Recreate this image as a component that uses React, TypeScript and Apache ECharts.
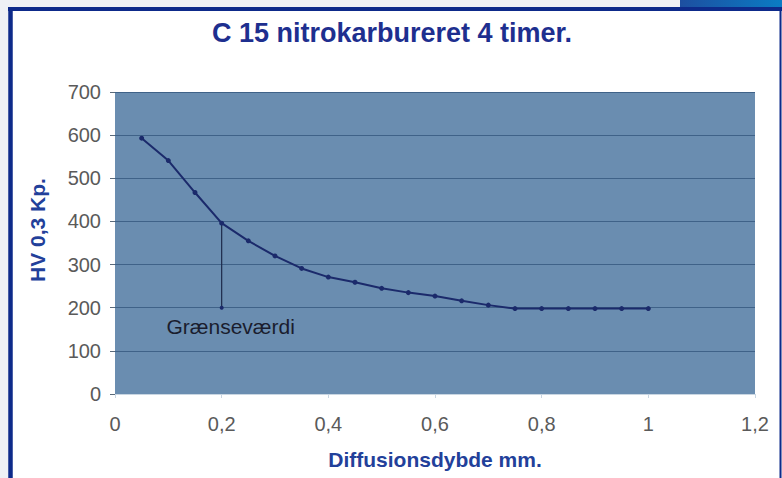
import React, { useEffect, useRef } from "react";
import * as echarts from "echarts";

const titleText = "C 15 nitrokarbureret 4 timer.";
const xAxisName = "Diffusionsdybde mm.";
const yAxisName = "HV 0,3 Kp.";
const limitLabel = "Grænseværdi";

const depthMm = [0.05, 0.1, 0.15, 0.2, 0.25, 0.3, 0.35, 0.4, 0.45, 0.5, 0.55, 0.6, 0.65, 0.7, 0.75, 0.8, 0.85, 0.9, 0.95, 1.0];
const hardnessHV = [593, 541, 467, 396, 355, 320, 291, 271, 259, 245, 235, 227, 216, 206, 198, 198, 198, 198, 198, 198];

const limitDepth = [0.2, 0.2];
const limitHardness = [396, 200];

const xMin = 0;
const xMax = 1.2;
const xStep = 0.2;
const yMin = 0;
const yMax = 700;
const yStep = 100;

export default function App() {
  const ref = useRef<HTMLDivElement>(null);

  useEffect(() => {
    if (!ref.current) return;
    const chart = echarts.init(ref.current, undefined, { renderer: "svg" });
    const lineColor = "#1b2a6b";
    const option: any = {
      animation: false,
      backgroundColor: "#eef1f5",
      title: {
        text: titleText,
        left: 387,
        textAlign: "center",
        top: 14,
        textStyle: {
          fontFamily: "Liberation Sans",
          fontWeight: "bold",
          fontSize: 27,
          color: "#1e2f8f",
        },
      },
      graphic: [
        {
          type: "rect",
          z: -10,
          shape: { x: 680, y: 0, width: 102, height: 9 },
          style: {
            fill: new echarts.graphic.LinearGradient(0, 0, 1, 0, [
              { offset: 0, color: "#1d4fa0" },
              { offset: 1, color: "#0a7cc4" },
            ]),
          },
        },
        {
          type: "rect",
          z: -10,
          shape: { x: 10, y: 9, width: 770, height: 480 },
          style: { fill: "#ffffff" },
        },
        {
          type: "line",
          z: -9,
          shape: { x1: 10.5, y1: 7, x2: 10.5, y2: 478 },
          style: { stroke: "#0d2a8a", lineWidth: 4.5 },
        },
        {
          type: "line",
          z: -9,
          shape: { x1: 8, y1: 9, x2: 782, y2: 9 },
          style: { stroke: "#0d2a8a", lineWidth: 4 },
        },
        {
          type: "line",
          z: -9,
          shape: { x1: 780.5, y1: 9, x2: 780.5, y2: 478 },
          style: { stroke: "#0d2a8a", lineWidth: 2 },
        },
        {
          type: "text",
          z: 10,
          x: 37,
          y: 230,
          rotation: Math.PI / 2,
          style: {
            text: yAxisName,
            align: "center",
            verticalAlign: "middle",
            fontFamily: "Liberation Sans",
            fontWeight: "bold",
            fontSize: 21,
            fill: "#22409a",
          },
        },
      ],
      grid: {
        left: 115,
        right: 27,
        top: 92,
        bottom: 84,
        show: true,
        backgroundColor: "#6a8db0",
        borderWidth: 0,
      },
      xAxis: {
        type: "value",
        min: xMin,
        max: xMax,
        interval: xStep,
        name: xAxisName,
        nameLocation: "middle",
        nameGap: 55,
        nameTextStyle: {
          fontFamily: "Liberation Sans",
          fontWeight: "bold",
          fontSize: 21,
          color: "#22409a",
        },
        axisLine: { show: true, lineStyle: { color: "#c9d6e2", width: 1 } },
        axisTick: { show: true, length: 4, lineStyle: { color: "#c9d6e2" } },
        splitLine: { show: false },
        axisLabel: {
          margin: 20,
          fontFamily: "Liberation Sans",
          fontSize: 20,
          color: "#5a5a5a",
          formatter: (v: number) => String(Math.round(v * 10) / 10).replace(".", ","),
        },
      },
      yAxis: {
        type: "value",
        min: yMin,
        max: yMax,
        interval: yStep,
        axisLine: { show: false },
        axisTick: { show: true, length: 5, lineStyle: { color: "#5a6a7a" } },
        splitLine: { show: true, lineStyle: { color: "#3f6288", width: 1.2 } },
        axisLabel: {
          margin: 14,
          fontFamily: "Liberation Sans",
          fontSize: 20,
          color: "#5a5a5a",
        },
      },
      series: [
        {
          type: "line",
          data: depthMm.map((d, i) => [d, hardnessHV[i]]),
          symbol: "circle",
          symbolSize: 5,
          itemStyle: { color: lineColor },
          lineStyle: { color: lineColor, width: 2 },
          z: 3,
        },
        {
          type: "line",
          data: limitDepth.map((d, i) => ({
            value: [d, limitHardness[i]],
            symbol: i === 0 ? "none" : "circle",
            label:
              i === 1
                ? {
                    show: true,
                    position: "bottom",
                    distance: 6,
                    offset: [9, 0],
                    formatter: limitLabel,
                    fontFamily: "Liberation Sans",
                    fontSize: 21,
                    color: "#1a1d2e",
                  }
                : { show: false },
          })),
          symbolSize: 4,
          itemStyle: { color: lineColor },
          lineStyle: { color: "#1d2a4a", width: 1.2 },
          z: 2,
        },
      ],
    };
    chart.setOption(option);
    return () => chart.dispose();
  }, []);

  return (
    <div
      ref={ref}
      style={{ position: "fixed", left: 0, top: 0, width: 782, height: 478 }}
    />
  );
}
